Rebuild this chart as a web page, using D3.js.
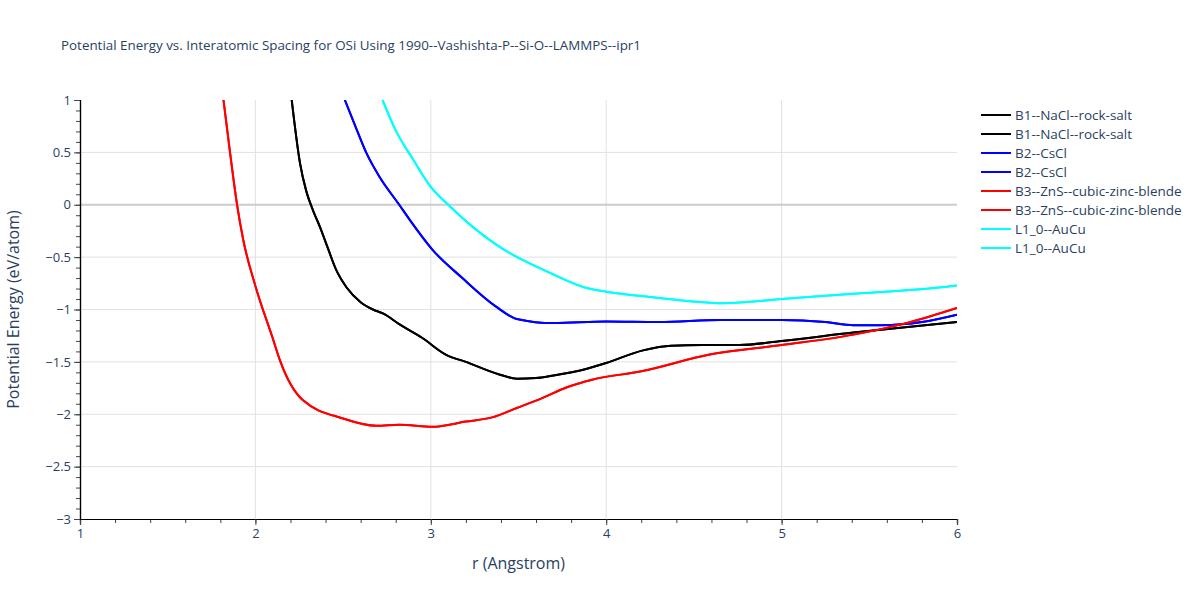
<!DOCTYPE html>
<html><head><meta charset="utf-8">
<script src="https://cdn.jsdelivr.net/npm/d3@7"></script>
<style>body{margin:0;background:#fff;} text{font-family:"Open Sans",Verdana,Arial,sans-serif;}</style>
</head><body><svg id="c" width="1200" height="600"></svg>
<script>
const title = "Potential Energy vs. Interatomic Spacing for OSi Using 1990--Vashishta-P--Si-O--LAMMPS--ipr1";
const xTicks = [1,2,3,4,5,6];
const yTicks = [1,0.5,0,-0.5,-1,-1.5,-2,-2.5,-3];
const legendNames = ["B1--NaCl--rock-salt","B1--NaCl--rock-salt","B2--CsCl","B2--CsCl","B3--ZnS--cubic-zinc-blende","B3--ZnS--cubic-zinc-blende","L1_0--AuCu","L1_0--AuCu"];
const colors = ["#000000","#000000","#0000ff","#0000ff","#ff0000","#ff0000","#00ffff","#00ffff"];

const b1R = [2.207,2.254,2.29,2.33,2.37,2.41,2.46,2.52,2.60,2.67,2.73,2.82,2.95,3.085,3.2,3.39,3.49,3.60,3.70,3.88,4.0,4.21,4.37,4.55,4.76,5.0,5.41,6.0];
const b1E = [1.0,0.40,0.13,-0.06,-0.22,-0.40,-0.62,-0.79,-0.93,-1.0,-1.04,-1.14,-1.27,-1.43,-1.50,-1.62,-1.66,-1.655,-1.63,-1.57,-1.51,-1.39,-1.345,-1.34,-1.34,-1.30,-1.22,-1.12];
const b2R = [2.51,2.577,2.634,2.71,2.82,2.88,3.01,3.18,3.37,3.49,3.70,4.0,4.3,4.65,5.0,5.25,5.41,5.57,5.8,6.0];
const b2E = [1.0,0.72,0.49,0.26,0.0,-0.144,-0.43,-0.70,-0.97,-1.09,-1.13,-1.115,-1.12,-1.10,-1.10,-1.12,-1.15,-1.15,-1.12,-1.05];
const b3R = [1.818,1.856,1.894,1.93,2.0,2.10,2.14,2.27,2.5,2.69,2.82,3.01,3.2,3.35,3.49,3.615,3.78,3.92,4.2,4.59,5.0,5.41,5.71,6.0];
const b3E = [1.0,0.49,0.016,-0.33,-0.775,-1.28,-1.485,-1.865,-2.04,-2.11,-2.10,-2.12,-2.07,-2.03,-1.94,-1.86,-1.74,-1.67,-1.59,-1.43,-1.34,-1.24,-1.13,-0.985];
const l10R = [2.725,2.80,2.90,3.0,3.11,3.26,3.39,3.68,3.90,4.0,4.25,4.67,5.0,5.41,5.77,6.0];
const l10E = [1.0,0.71,0.43,0.17,-0.016,-0.24,-0.40,-0.65,-0.80,-0.83,-0.88,-0.94,-0.90,-0.85,-0.81,-0.77];

const seriesR = [b1R,b1R,b2R,b2R,b3R,b3R,l10R,l10R];
const seriesE = [b1E,b1E,b2E,b2E,b3E,b3E,l10E,l10E];

const svg = d3.select("#c");
const L=80,R=957,T=100,B=519;
const x = d3.scaleLinear().domain([1,6]).range([L,R]);
const y = d3.scaleLinear().domain([-3,1]).range([B,T]);
const tc = "#2a3f5f";

// grid
const g = svg.append("g");
g.selectAll(".gx").data(xTicks.slice(1,-1)).enter().append("line")
 .attr("x1",d=>x(d)).attr("x2",d=>x(d)).attr("y1",T).attr("y2",B).attr("stroke","#e1e1e1").attr("stroke-width",1);
g.selectAll(".gy").data(yTicks.filter(d=>d!==1&&d!==-3)).enter().append("line")
 .attr("x1",L).attr("x2",R).attr("y1",d=>y(d)).attr("y2",d=>y(d))
 .attr("stroke",d=>d===0?"#cccccc":"#e1e1e1").attr("stroke-width",d=>d===0?2:1);

// lines
svg.append("clipPath").attr("id","cp").append("rect").attr("x",L).attr("y",T).attr("width",R-L).attr("height",B-T);
const line = d3.line().curve(d3.curveMonotoneX).x(d=>x(d[0])).y(d=>y(d[1]));
const lg = svg.append("g").attr("clip-path","url(#cp)");
seriesR.forEach((rs,i)=>{
  const pts = rs.map((r,j)=>[r,seriesE[i][j]]);
  lg.append("path").attr("d",line(pts)).attr("fill","none").attr("stroke",colors[i]).attr("stroke-width",2);
});

// axes
const fs = 13;
const xAxis = d3.axisBottom(x).tickValues(xTicks).tickFormat(d3.format("d")).tickSize(6).tickPadding(4);
const xMinor = d3.axisBottom(x).tickValues(d3.range(1,6.001,0.2)).tickFormat("").tickSize(4);
const yAxis = d3.axisLeft(y).tickValues(yTicks).tickFormat(d=>d<0?"\u2212"+Math.abs(d):String(d)).tickSize(6).tickPadding(3);
const yMinor = d3.axisLeft(y).tickValues(d3.range(-3,1.001,0.1)).tickFormat("").tickSize(4);
function style(sel){sel.select(".domain").attr("stroke","#000").attr("stroke-width",1.2);sel.selectAll(".tick line").attr("stroke","#444");sel.selectAll("text").attr("fill",tc).attr("font-size",fs).attr("font-family","'Open Sans',Verdana,sans-serif");}
svg.append("g").attr("transform",`translate(0,${B})`).call(xMinor).call(style);
svg.append("g").attr("transform",`translate(0,${B})`).call(xAxis).call(style);
svg.append("g").attr("transform",`translate(${L},0)`).call(yMinor).call(style);
svg.append("g").attr("transform",`translate(${L},0)`).call(yAxis).call(style);

// titles
svg.append("text").attr("x",61).attr("y",50).attr("fill",tc).attr("font-size",13.4).text(title);
svg.append("text").attr("x",(L+R)/2).attr("y",569).attr("text-anchor","middle").attr("fill",tc).attr("font-size",16).text("r (Angstrom)");
svg.append("text").attr("transform",`translate(19,${(T+B)/2}) rotate(-90)`).attr("text-anchor","middle").attr("fill",tc).attr("font-size",16).text("Potential Energy (eV/atom)");

// legend
const leg = svg.append("g");
legendNames.forEach((n,i)=>{
  const yy = 115 + i*19;
  leg.append("line").attr("x1",981).attr("x2",1011).attr("y1",yy).attr("y2",yy).attr("stroke",colors[i]).attr("stroke-width",2);
  leg.append("text").attr("x",1015).attr("y",yy+4.5).attr("fill",tc).attr("font-size",13.5).text(n);
});
</script></body></html>
